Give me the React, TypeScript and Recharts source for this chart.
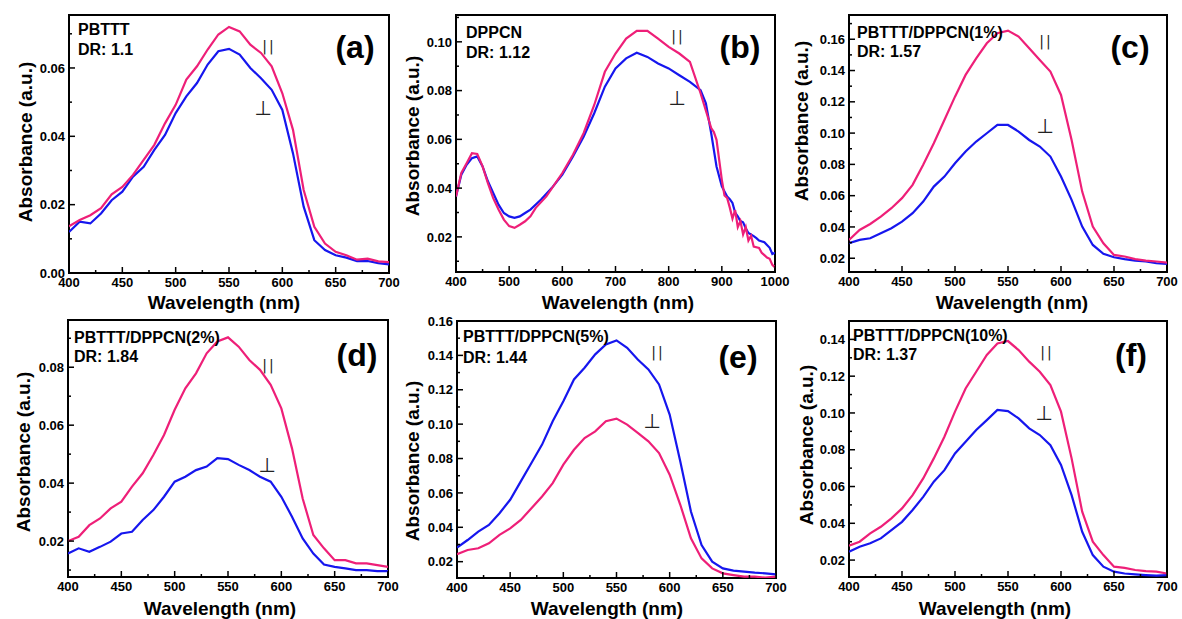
import { LineChart, Line, XAxis, YAxis, ReferenceArea } from 'recharts'

const W = 1182
const H = 619
const PINK = '#ee1f78'
const BLUE = '#1616ee'
const FONT = '"Liberation Sans", Arial, sans-serif'
const AX_H = 30
const AX_W = 40

// wavelengths sampled every 10 nm, 400..700
const wl = [400, 410, 420, 430, 440, 450, 460, 470, 480, 490, 500, 510, 520, 530, 540, 550,
  560, 570, 580, 590, 600, 610, 620, 630, 640, 650, 660, 670, 680, 690, 700]

// (a) PBTTT
const aPar = [0.0137, 0.0155, 0.0169, 0.0190, 0.0230, 0.0252, 0.0287, 0.0331, 0.0375, 0.0438, 0.0492,
  0.0566, 0.0605, 0.0654, 0.0698, 0.0720, 0.0707, 0.0668, 0.0644, 0.0605, 0.0526, 0.0419, 0.0243,
  0.0135, 0.0086, 0.0062, 0.0052, 0.0039, 0.0042, 0.0034, 0.0032]
const aPerp = [0.0120, 0.0150, 0.0145, 0.0174, 0.0213, 0.0238, 0.0282, 0.0311, 0.0360, 0.0404, 0.0468,
  0.0517, 0.0556, 0.0610, 0.0649, 0.0656, 0.0639, 0.0600, 0.0570, 0.0536, 0.0477, 0.0350, 0.0194,
  0.0096, 0.0067, 0.0052, 0.0045, 0.0035, 0.0035, 0.0029, 0.0025]

// (b) DPPCN
const bParWl = [400, 410, 420, 430, 440, 450, 460, 470, 480, 490, 500, 510, 520, 530, 540, 550, 570,
  600, 620, 640, 660, 680, 700, 720, 740, 760, 780, 800, 820, 840, 860, 880, 885, 890, 900, 905, 910,
  915, 920, 925, 930, 935, 940, 945, 950, 955, 960, 970, 975, 980, 985, 990, 995, 1000]
const bPar = [0.0366, 0.0462, 0.0502, 0.0543, 0.0540, 0.0489, 0.0420, 0.0359, 0.0312, 0.0271, 0.0244,
  0.0237, 0.0250, 0.0264, 0.0284, 0.0319, 0.0366, 0.0462, 0.0537, 0.0625, 0.0741, 0.0877, 0.0952,
  0.1013, 0.1045, 0.1045, 0.1013, 0.0979, 0.0952, 0.0918, 0.0789, 0.0646, 0.0630, 0.0598, 0.0434,
  0.0370, 0.0360, 0.0320, 0.0275, 0.0310, 0.0240, 0.0265, 0.0210, 0.0240, 0.0185, 0.0205, 0.0160,
  0.0155, 0.0135, 0.0125, 0.0115, 0.0110, 0.0085, 0.0075]
const bPerpWl = [400, 410, 420, 430, 440, 450, 460, 470, 480, 490, 500, 510, 520, 530, 540, 560, 580,
  600, 620, 640, 660, 680, 700, 720, 740, 760, 780, 800, 820, 840, 860, 870, 880, 890, 900, 910, 915,
  920, 925, 930, 935, 940, 945, 950, 960, 965, 970, 980, 990, 995, 1000]
const bPerp = [0.0366, 0.0455, 0.0496, 0.0523, 0.0530, 0.0489, 0.0428, 0.0380, 0.0332, 0.0298, 0.0284,
  0.0278, 0.0284, 0.0298, 0.0312, 0.0353, 0.0400, 0.0455, 0.0530, 0.0611, 0.0707, 0.0816, 0.0891,
  0.0932, 0.0955, 0.0938, 0.0911, 0.0891, 0.0863, 0.0836, 0.0802, 0.0748, 0.0625, 0.0489, 0.0407,
  0.0366, 0.0355, 0.0339, 0.0300, 0.0284, 0.0265, 0.0260, 0.0235, 0.0216, 0.0203, 0.0195, 0.0185,
  0.0178, 0.0155, 0.0130, 0.0135]

// (c) 1%
const cPar = [0.0317, 0.0381, 0.0419, 0.0466, 0.0520, 0.0584, 0.0669, 0.0797, 0.0935, 0.1084, 0.1233,
  0.1372, 0.1478, 0.1574, 0.1638, 0.1655, 0.1617, 0.1542, 0.1468, 0.1393, 0.1244, 0.0956, 0.0626,
  0.0402, 0.0296, 0.0221, 0.0211, 0.0194, 0.0185, 0.0179, 0.0172]
const cPerp = [0.0296, 0.0317, 0.0328, 0.0360, 0.0392, 0.0434, 0.0488, 0.0562, 0.0658, 0.0722, 0.0807,
  0.0882, 0.0946, 0.0999, 0.1052, 0.1052, 0.1010, 0.0956, 0.0914, 0.0850, 0.0722, 0.0573, 0.0402,
  0.0285, 0.0228, 0.0206, 0.0194, 0.0185, 0.0179, 0.0168, 0.0164]

// (d) 2%
const dPar = [0.0200, 0.0215, 0.0255, 0.0278, 0.0313, 0.0336, 0.0388, 0.0434, 0.0497, 0.0566, 0.0653,
  0.0727, 0.0779, 0.0848, 0.0889, 0.0903, 0.0871, 0.0825, 0.0791, 0.0739, 0.0658, 0.0520, 0.0347,
  0.0221, 0.0175, 0.0134, 0.0134, 0.0123, 0.0123, 0.0117, 0.0111]
const dPerp = [0.0157, 0.0175, 0.0163, 0.0180, 0.0198, 0.0226, 0.0232, 0.0273, 0.0307, 0.0353, 0.0405,
  0.0422, 0.0445, 0.0457, 0.0486, 0.0483, 0.0463, 0.0445, 0.0422, 0.0405, 0.0353, 0.0284, 0.0209,
  0.0157, 0.0119, 0.0111, 0.0106, 0.0100, 0.0100, 0.0096, 0.0096]

// (e) 5%  (parallel is the upper, blue curve here)
const ePar = [0.0282, 0.0326, 0.0375, 0.0414, 0.0482, 0.0560, 0.0667, 0.0774, 0.0881, 0.1017, 0.1133,
  0.1260, 0.1328, 0.1406, 0.1464, 0.1487, 0.1444, 0.1376, 0.1318, 0.1231, 0.1056, 0.0783, 0.0492,
  0.0297, 0.0200, 0.0161, 0.0148, 0.0142, 0.0136, 0.0132, 0.0126]
const ePerp = [0.0243, 0.0268, 0.0278, 0.0307, 0.0356, 0.0394, 0.0443, 0.0511, 0.0579, 0.0657, 0.0764,
  0.0851, 0.0919, 0.0958, 0.1017, 0.1032, 0.0997, 0.0949, 0.0900, 0.0832, 0.0706, 0.0531, 0.0336,
  0.0219, 0.0161, 0.0132, 0.0122, 0.0113, 0.0113, 0.0107, 0.0113]

// (f) 10%
const fPar = [0.0278, 0.0300, 0.0345, 0.0381, 0.0427, 0.0481, 0.0553, 0.0644, 0.0753, 0.0871, 0.1007,
  0.1133, 0.1224, 0.1315, 0.1378, 0.1391, 0.1342, 0.1279, 0.1224, 0.1152, 0.1007, 0.0753, 0.0463,
  0.0300, 0.0227, 0.0164, 0.0158, 0.0146, 0.0140, 0.0137, 0.0127]
const fPerp = [0.0245, 0.0273, 0.0291, 0.0318, 0.0363, 0.0408, 0.0472, 0.0544, 0.0626, 0.0689, 0.0780,
  0.0843, 0.0907, 0.0961, 0.1016, 0.1010, 0.0970, 0.0916, 0.0880, 0.0825, 0.0717, 0.0553, 0.0354,
  0.0227, 0.0164, 0.0137, 0.0127, 0.0122, 0.0118, 0.0115, 0.0118]

// axis ticks
const xMajor = [400, 450, 500, 550, 600, 650, 700]
const xMinor = [425, 475, 525, 575, 625, 675]
const xMajorB = [400, 500, 600, 700, 800, 900, 1000]
const xMinorB = [450, 550, 650, 750, 850, 950]
const yMajorA = [0, 0.02, 0.04, 0.06]
const yMinorA = [0.01, 0.03, 0.05, 0.07]
const yMajorB = [0.02, 0.04, 0.06, 0.08, 0.1]
const yMinorB = [0.01, 0.03, 0.05, 0.07, 0.09, 0.11]
const yMajorC = [0.02, 0.04, 0.06, 0.08, 0.1, 0.12, 0.14, 0.16]
const yMinorC = [0.03, 0.05, 0.07, 0.09, 0.11, 0.13, 0.15, 0.17]
const yMajorD = [0.02, 0.04, 0.06, 0.08]
const yMinorD = [0.01, 0.03, 0.05, 0.07, 0.09]
const yMajorE = [0.02, 0.04, 0.06, 0.08, 0.1, 0.12, 0.14, 0.16]
const yMinorE = [0.03, 0.05, 0.07, 0.09, 0.11, 0.13, 0.15]
const yMajorF = [0.02, 0.04, 0.06, 0.08, 0.1, 0.12, 0.14]
const yMinorF = [0.03, 0.05, 0.07, 0.09, 0.11, 0.13]

const pts = (xs: number[], ys: number[]) => xs.map((x, i) => ({ x, v: ys[i] }))

type PanelDef = {
  box: [number, number, number, number] // plot left, top, right, bottom
  xDom: [number, number]
  xMajor: number[]
  xMinor: number[]
  yDom: [number, number]
  yMajor: number[]
  yMinor: number[]
  par: { x: number; v: number }[]
  perp: { x: number; v: number }[]
  parColor: string
  perpColor: string
  name: string
  dr: string
  tag: string
  textAt: [number, number, number]
  tagAt: [number, number]
  parAt: [number, number]
  perpAt: [number, number]
  xTitleAt: [number, number]
  yTitleAt: [number, number]
}

const panels: PanelDef[] = [
  {
    box: [69, 15, 389, 273], xDom: [400, 700], xMajor, xMinor,
    yDom: [0, 0.0755], yMajor: yMajorA, yMinor: yMinorA,
    par: pts(wl, aPar), perp: pts(wl, aPerp), parColor: PINK, perpColor: BLUE,
    name: 'PBTTT', dr: 'DR: 1.1', tag: '(a)', textAt: [78, 35, 55], tagAt: [355, 58],
    parAt: [269, 51], perpAt: [263, 115], xTitleAt: [224, 309], yTitleAt: [25, 142],
  },
  {
    box: [456, 15, 775, 272], xDom: [400, 1000], xMajor: xMajorB, xMinor: xMinorB,
    yDom: [0.0056, 0.111], yMajor: yMajorB, yMinor: yMinorB,
    par: pts(bParWl, bPar), perp: pts(bPerpWl, bPerp), parColor: PINK, perpColor: BLUE,
    name: 'DPPCN', dr: 'DR: 1.12', tag: '(b)', textAt: [466, 38, 58], tagAt: [740, 58],
    parAt: [678, 41], perpAt: [677, 105], xTitleAt: [618, 309], yTitleAt: [412, 136],
  },
  {
    box: [849, 15, 1167, 272], xDom: [400, 700], xMajor, xMinor,
    yDom: [0.0112, 0.1755], yMajor: yMajorC, yMinor: yMinorC,
    par: pts(wl, cPar), perp: pts(wl, cPerp), parColor: PINK, perpColor: BLUE,
    name: 'PBTTT/DPPCN(1%)', dr: 'DR: 1.57', tag: '(c)', textAt: [857, 38, 57], tagAt: [1130, 58],
    parAt: [1046, 46], perpAt: [1045, 133], xTitleAt: [1012, 309], yTitleAt: [801, 121],
  },
  {
    box: [68, 320, 388, 577], xDom: [400, 700], xMajor, xMinor,
    yDom: [0.0076, 0.0963], yMajor: yMajorD, yMinor: yMinorD,
    par: pts(wl, dPar), perp: pts(wl, dPerp), parColor: PINK, perpColor: BLUE,
    name: 'PBTTT/DPPCN(2%)', dr: 'DR: 1.84', tag: '(d)', textAt: [74, 343, 362], tagAt: [357, 366],
    parAt: [269, 370], perpAt: [267, 472], xTitleAt: [220, 615], yTitleAt: [23, 452],
  },
  {
    box: [457, 321, 776, 578], xDom: [400, 700], xMajor, xMinor,
    yDom: [0.0105, 0.16], yMajor: yMajorE, yMinor: yMinorE,
    par: pts(wl, ePar), perp: pts(wl, ePerp), parColor: BLUE, perpColor: PINK,
    name: 'PBTTT/DPPCN(5%)', dr: 'DR: 1.44', tag: '(e)', textAt: [463, 342, 363], tagAt: [738, 368],
    parAt: [658, 357], perpAt: [652, 428], xTitleAt: [607, 615], yTitleAt: [412, 461],
  },
  {
    box: [849, 321, 1167, 577], xDom: [400, 700], xMajor, xMinor,
    yDom: [0.0108, 0.15], yMajor: yMajorF, yMinor: yMinorF,
    par: pts(wl, fPar), perp: pts(wl, fPerp), parColor: PINK, perpColor: BLUE,
    name: 'PBTTT/DPPCN(10%)', dr: 'DR: 1.37', tag: '(f)', textAt: [853, 341, 360], tagAt: [1131, 366],
    parAt: [1047, 357], perpAt: [1044, 420], xTitleAt: [995, 615], yTitleAt: [806, 445],
  },
]

const has = (list: number[], v: number) => list.some((m) => Math.abs(m - v) < 1e-9)

function Panel({ p }: { p: PanelDef }) {
  const [l, t, r, b] = p.box
  const inY = (v: number) => v >= p.yDom[0] && v <= p.yDom[1]
  const yTicks = [...p.yMajor, ...p.yMinor].filter(inY).sort((m, n) => m - n)
  const xTicks = [...p.xMajor, ...p.xMinor].sort((m, n) => m - n)

  const xTick = (props: any) => {
    const { x, payload } = props
    const major = has(p.xMajor, payload.value)
    return (
      <g>
        <line x1={x} x2={x} y1={b} y2={b - (major ? 6 : 3)} stroke="#000" strokeWidth={1.5} />
        {major && (
          <text x={x} y={b + 14} textAnchor="middle" fontSize={13} fontWeight="bold" fontFamily={FONT} fill="#000">
            {payload.value}
          </text>
        )}
      </g>
    )
  }
  const yTick = (props: any) => {
    const { y, payload } = props
    const major = has(p.yMajor, payload.value)
    return (
      <g>
        <line x1={l} x2={l + (major ? 6 : 3)} y1={y} y2={y} stroke="#000" strokeWidth={1.5} />
        {major && (
          <text x={l - 4} y={y} dy="0.36em" textAnchor="end" fontSize={13} fontWeight="bold" fontFamily={FONT} fill="#000">
            {payload.value.toFixed(2)}
          </text>
        )}
      </g>
    )
  }

  return (
    <div style={{ position: 'absolute', left: 0, top: 0 }}>
      <LineChart width={W} height={H} margin={{ left: l - AX_W, top: t, right: W - r, bottom: H - b - AX_H }}>
        <XAxis type="number" dataKey="x" domain={p.xDom} ticks={xTicks} allowDataOverflow interval={0}
          axisLine={false} tickLine={false} height={AX_H} tick={xTick} />
        <YAxis type="number" domain={p.yDom} ticks={yTicks} allowDataOverflow interval={0}
          axisLine={false} tickLine={false} width={AX_W} tick={yTick} />
        <Line data={p.perp} dataKey="v" type="linear" stroke={p.perpColor} strokeWidth={2.2} dot={false} isAnimationActive={false} />
        <Line data={p.par} dataKey="v" type="linear" stroke={p.parColor} strokeWidth={2.2} dot={false} isAnimationActive={false} />
        <ReferenceArea x1={p.xDom[0]} x2={p.xDom[1]} y1={p.yDom[0]} y2={p.yDom[1]} fill="none" fillOpacity={0}
          stroke="#000" strokeWidth={2} ifOverflow="visible" />
      </LineChart>
    </div>
  )
}

function Labels({ p }: { p: PanelDef }) {
  const bold = { fontFamily: FONT, fontWeight: 'bold' as const, fill: '#000' }
  return (
    <g>
      <text x={p.textAt[0]} y={p.textAt[1]} fontSize={16} {...bold}>{p.name}</text>
      <text x={p.textAt[0]} y={p.textAt[2]} fontSize={16} {...bold}>{p.dr}</text>
      <text x={p.tagAt[0]} y={p.tagAt[1]} fontSize={32} textAnchor="middle" {...bold}>{p.tag}</text>
      <text x={p.parAt[0]} y={p.parAt[1]} fontSize={14} textAnchor="middle" letterSpacing={2}
        fontFamily='"DejaVu Sans", sans-serif' fill="#222">||</text>
      <text x={p.perpAt[0]} y={p.perpAt[1]} fontSize={20} textAnchor="middle" fontFamily='"DejaVu Sans", sans-serif'
        fill="#222">⊥</text>
      <text x={p.xTitleAt[0]} y={p.xTitleAt[1]} fontSize={19} textAnchor="middle" {...bold}>Wavelength (nm)</text>
      <text x={p.yTitleAt[0]} y={p.yTitleAt[1]} fontSize={19} textAnchor="middle" dominantBaseline="central"
        transform={`rotate(-90 ${p.yTitleAt[0]} ${p.yTitleAt[1]})`} {...bold}>Absorbance (a.u.)</text>
    </g>
  )
}

export default function App() {
  return (
    <div style={{ position: 'absolute', left: 0, top: 0, width: W, height: H, background: '#fff', overflow: 'hidden' }}>
      {panels.map((p) => <Panel key={p.tag} p={p} />)}
      <svg width={W} height={H} style={{ position: 'absolute', left: 0, top: 0, pointerEvents: 'none' }}>
        {panels.map((p) => <Labels key={p.tag} p={p} />)}
      </svg>
    </div>
  )
}
